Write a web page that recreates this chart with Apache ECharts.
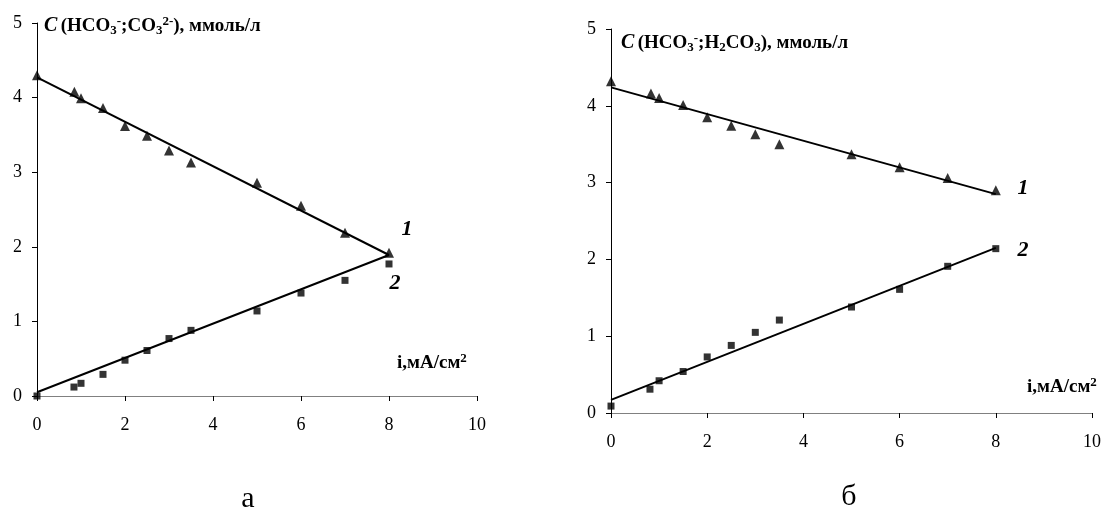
<!DOCTYPE html>
<html>
<head>
<meta charset="utf-8">
<script src="https://cdn.jsdelivr.net/npm/echarts@6/dist/echarts.min.js"></script>
<style>
  html, body { margin: 0; padding: 0; background: #fff; }
  #main { width: 1104px; height: 511px; }
</style>
</head>
<body>
<div id="main"></div>
<script>
// chart а: HCO3- / CO3 2-
var xA1 = [0, 0.85, 1, 1.5, 2, 2.5, 3, 3.5, 5, 6, 7, 8];
var yA1 = [4.30, 4.08, 3.99, 3.86, 3.62, 3.49, 3.29, 3.13, 2.86, 2.55, 2.19, 1.92];
var xA2 = [0, 0.84, 1, 1.5, 2, 2.5, 3, 3.5, 5, 6, 7, 8];
var yA2 = [0.0, 0.12, 0.17, 0.29, 0.48, 0.61, 0.77, 0.88, 1.14, 1.38, 1.55, 1.77];
var fitA1 = [[0, 4.27], [8, 1.89]];
var fitA2 = [[0, 0.05], [8, 1.89]];

// chart б: HCO3- / H2CO3
var xB1 = [0, 0.83, 1, 1.5, 2, 2.5, 3, 3.5, 5, 6, 7, 8];
var yB1 = [4.32, 4.16, 4.10, 4.01, 3.85, 3.74, 3.63, 3.50, 3.37, 3.20, 3.06, 2.90];
var xB2 = [0, 0.81, 1, 1.5, 2, 2.5, 3, 3.5, 5, 6, 7, 8];
var yB2 = [0.09, 0.31, 0.42, 0.54, 0.73, 0.88, 1.05, 1.21, 1.38, 1.61, 1.91, 2.14];
var fitB1 = [[0, 4.24], [8, 2.85]];
var fitB2 = [[0, 0.17], [8, 2.15]];

var xTicks = [0, 10, 2];   // min, max, interval
var yTicks = [0, 5, 1];

var serif = '"Liberation Serif", "Times New Roman", serif';

function pairs(xs, ys) {
  var out = [];
  for (var i = 0; i < xs.length; i++) out.push([xs[i], ys[i]]);
  return out;
}

function xAxis(idx) {
  return {
    type: 'value', gridIndex: idx, min: xTicks[0], max: xTicks[1], interval: xTicks[2],
    axisLine: { show: true, lineStyle: { color: '#808080', width: 1 } },
    axisTick: { show: true, inside: false, length: 5, lineStyle: { color: '#000' } },
    axisLabel: { margin: 20, color: '#000', fontFamily: serif, fontSize: 18 },
    splitLine: { show: false }
  };
}
function yAxis(idx) {
  return {
    type: 'value', gridIndex: idx, min: yTicks[0], max: yTicks[1], interval: yTicks[2],
    axisLine: { show: true, lineStyle: { color: '#000', width: 1 } },
    axisTick: { show: true, length: 5, lineStyle: { color: '#000' } },
    axisLabel: { margin: 15, color: '#000', fontFamily: serif, fontSize: 18 },
    splitLine: { show: false }
  };
}
function pts(idx, data, symbol, size) {
  return { type: 'scatter', xAxisIndex: idx, yAxisIndex: idx, data: data, symbol: symbol,
    symbolSize: size, itemStyle: { color: '#000' }, silent: true, z: 3 };
}
function fit(idx, data) {
  return { type: 'line', xAxisIndex: idx, yAxisIndex: idx, data: data, symbol: 'none',
    lineStyle: { color: '#000', width: 2 }, silent: true, z: 2 };
}

var rich = {
  b: { fontFamily: serif, fontSize: 19, fontWeight: 'bold', color: '#000' },
  c: { fontFamily: serif, fontSize: 20, fontWeight: 'bold', fontStyle: 'italic', color: '#000' },
  sub: { fontFamily: serif, fontSize: 13, fontWeight: 'bold', color: '#000', padding: [10, 0, 0, 0] },
  sup: { fontFamily: serif, fontSize: 13, fontWeight: 'bold', color: '#000', padding: [0, 0, 9, 0] }
};
function rtext(x, y, text) {
  return { type: 'text', x: x, y: y,
    style: { text: text, rich: rich, align: 'left', verticalAlign: 'middle' } };
}
function label(x, y, text, size, weight, style) {
  return { type: 'text', x: x, y: y,
    style: { text: text, fontFamily: serif, fontSize: size, fontWeight: weight,
      fontStyle: style, fill: '#000', align: 'center', verticalAlign: 'middle' } };
}

var chart = echarts.init(document.getElementById('main'));
chart.setOption({
  animation: false,
  grid: [
    { left: 37, top: 23, width: 440, height: 373 },
    { left: 611, top: 29, width: 483, height: 384 }
  ],
  xAxis: [xAxis(0), xAxis(1)],
  yAxis: [yAxis(0), yAxis(1)],
  series: [
    fit(0, fitA1), fit(0, fitA2),
    pts(0, pairs(xA1, yA1), 'triangle', 10), pts(0, pairs(xA2, yA2), 'rect', 7),
    fit(1, fitB1), fit(1, fitB2),
    pts(1, pairs(xB1, yB1), 'triangle', 10), pts(1, pairs(xB2, yB2), 'rect', 7)
  ],
  graphic: [
    rtext(44, 26, '{c|C} {b|(HCO}{sub|3}{sup|-}{b|;CO}{sub|3}{sup|2-}{b|), ммоль/л}'),
    rtext(621, 43, '{c|C} {b|(HCO}{sub|3}{sup|-}{b|;H}{sub|2}{b|CO}{sub|3}{b|), ммоль/л}'),
    rtext(397, 363, '{b|i,мА/см}{sup|2}'),
    rtext(1027, 387, '{b|i,мА/см}{sup|2}'),
    label(407, 229, '1', 22, 'bold', 'italic'),
    label(395, 283, '2', 22, 'bold', 'italic'),
    label(1023, 188, '1', 22, 'bold', 'italic'),
    label(1023, 250, '2', 22, 'bold', 'italic'),
    label(248, 499, 'а', 30, 'normal', 'normal'),
    label(849, 497, 'б', 30, 'normal', 'normal')
  ]
});
</script>
</body>
</html>
